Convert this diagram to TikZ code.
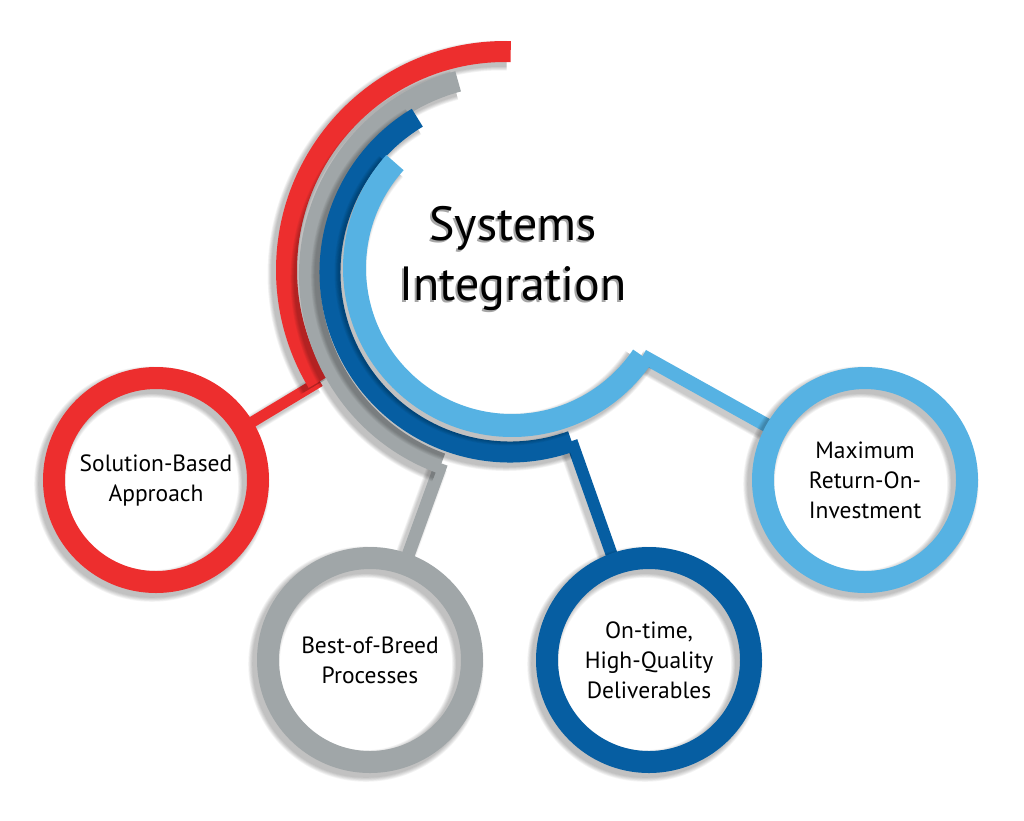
\documentclass[tikz,border=0pt]{standalone}
\usepackage{fontspec}
\setmainfont{PT Sans}
\definecolor{cred}{RGB}{237,46,46}
\definecolor{cgray}{RGB}{160,166,168}
\definecolor{cdblue}{RGB}{6,94,162}
\definecolor{clblue}{RGB}{86,178,227}
% #1 colour, #2 cx, #3 cy, #4 mid radius, #5 width, #6 start angle, #7 end angle
\newcommand{\ArcBand}[7]{%
  \foreach \k in {1,...,6}
    \draw[softshade, line width={#5+1.5*\k}] ({#2-4},{#3-4}) ++(#6:#4) arc[start angle=#6, end angle=#7, radius=#4];
  \draw[#1, line width=#5] (#2,#3) ++(#6:#4) arc[start angle=#6, end angle=#7, radius=#4];
}
% #1 from, #2 to, #3 colour, #4 width
\newcommand{\LinkBand}[4]{%
  \foreach \k in {1,...,5}
    \draw[softshade, line width={#4+1.5*\k}] ([shift={(-4,-4)}]#1) -- ([shift={(-4,-4)}]#2);
  \draw[#3, line width=#4] (#1) -- (#2);
}
% #1 centre coordinate name
\newcommand{\RingShade}[1]{%
  \fill[white] (#1) circle[radius=103];
  \foreach \k in {1,...,6}
    \draw[softshade, line width={22+1.6*\k}] ([shift={(-4,-4)}]#1) circle[radius=102];
}
\begin{document}
\begin{tikzpicture}[x=1pt,y=1pt,
  softshade/.style={black, opacity=0.045},
  ring/.style={circle, draw=#1, line width=22pt, minimum size=204pt, inner sep=0pt,
    align=center, text=black, font=\fontsize{23.5}{30}\selectfont}]
\fill[white] (0,0) rectangle (1024,-820);
\useasboundingbox (0,0) rectangle (1024,-820);

% arc end points and circle centres
\coordinate (e1) at ([shift={(211:216)}]505,-270);
\coordinate (e2) at ([shift={(250:200.5)}]510,-275);
\coordinate (e3) at ([shift={(290:180)}]510,-272);
\coordinate (e4) at ([shift={(326:157.5)}]512,-268);
\coordinate (c1c) at (156,-480);
\coordinate (c2c) at (370,-660);
\coordinate (c3c) at (649,-660);
\coordinate (c4c) at (865,-480);

% connectors
\LinkBand{e1}{c1c}{cred}{11}
\LinkBand{e2}{c2c}{cgray}{13}
\LinkBand{e3}{c3c}{cdblue}{12}
\LinkBand{e4}{c4c}{clblue}{14}

% circles
\RingShade{c1c}
\node[ring=cred] (c1) at (c1c) {Solution-Based\\Approach};
\RingShade{c2c}
\node[ring=cgray] (c2) at (c2c) {Best-of-Breed\\Processes};
\RingShade{c3c}
\node[ring=cdblue] (c3) at (c3c) {On-time,\\High-Quality\\Deliverables};
\RingShade{c4c}
\node[ring=clblue] (c4) at (c4c) {Maximum\\Return-On-\\Investment};

% concentric arcs
\ArcBand{cred}{505}{-270}{218.5}{21}{88.5}{211}
\ArcBand{cgray}{510}{-275}{200.5}{21}{105}{250}
\ArcBand{cdblue}{510}{-272}{180}{21}{121}{290}
\ArcBand{clblue}{512}{-268}{157.5}{23}{138}{326}

% title
\node[align=center, text=black!35, font=\fontsize{48}{60}\selectfont] (titleshadow) at (511,-260) {Systems\\Integration};
\node[align=center, text=black, font=\fontsize{48}{60}\selectfont] (title) at (513,-258) {Systems\\Integration};
\end{tikzpicture}
\end{document}
